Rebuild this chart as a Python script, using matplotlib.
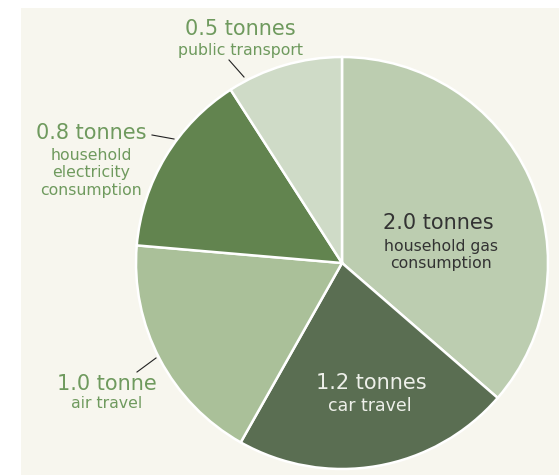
import matplotlib
matplotlib.use('Agg')
from matplotlib import pyplot as plt, patches

# tonnes of CO2 per year, clockwise from 12 o'clock
values = [2.0, 1.2, 1.0, 0.8, 0.5]
amounts = ['2.0 tonnes', '1.2 tonnes', '1.0 tonne', '0.8 tonnes', '0.5 tonnes']
names = ['household gas\nconsumption', 'car travel', 'air travel',
         'household\nelectricity\nconsumption', 'public transport']
colors = ['#bccdb0', '#5a6e52', '#aac099', '#62844f', '#cfdbc7']

bg = '#f7f6ee'
green = '#6f9a5e'

fig = plt.figure(figsize=(5.59, 4.75), dpi=100)
fig.patch.set_facecolor('white')

ax = fig.add_axes([0, 0, 1, 1])
ax.set_facecolor('none')

def Y(y):
    return 475 - y

# beige panel behind the chart
ax.add_patch(patches.Rectangle((21, 0), 559 - 21, Y(8), facecolor=bg,
                               edgecolor='none', zorder=-5))

cx, cy, r = 342, Y(263), 206
ax.pie(values, colors=colors, startangle=90, counterclock=False,
       center=(cx, cy), radius=r,
       wedgeprops={'edgecolor': 'white', 'linewidth': 1.8})
ax.set_xlim(0, 559)
ax.set_ylim(0, 475)
ax.set_aspect('equal')
ax.axis('off')

big = 15
small = 11.3

# labels inside the slices
ax.text(438, Y(223), amounts[0], fontsize=big, color='#333333', ha='center', va='center')
ax.text(441, Y(255), names[0], fontsize=small, color='#333333', ha='center', va='center',
        linespacing=1.2)
ax.text(371, Y(383), amounts[1], fontsize=big, color='#eef0ea', ha='center', va='center')
ax.text(370, Y(406), names[1], fontsize=12.5, color='#eef0ea', ha='center', va='center')

# labels outside with leader lines
ax.text(107, Y(384), amounts[2], fontsize=big, color=green, ha='center', va='center')
ax.text(107, Y(404), names[2], fontsize=small, color=green, ha='center', va='center')
ax.plot([137, 156], [Y(372), Y(358)], color='#222222', lw=0.8)

ax.text(91, Y(133), amounts[3], fontsize=big, color=green, ha='center', va='center')
ax.text(91, Y(173), names[3], fontsize=small, color=green, ha='center', va='center',
        linespacing=1.2)
ax.plot([152, 174], [Y(135), Y(139)], color='#222222', lw=0.8)

ax.text(240, Y(29), amounts[4], fontsize=big, color=green, ha='center', va='center')
ax.text(240, Y(50), names[4], fontsize=small, color=green, ha='center', va='center')
ax.plot([229, 244], [Y(60), Y(77)], color='#222222', lw=0.8)

plt.savefig('out.png', dpi=100, facecolor=fig.get_facecolor())
